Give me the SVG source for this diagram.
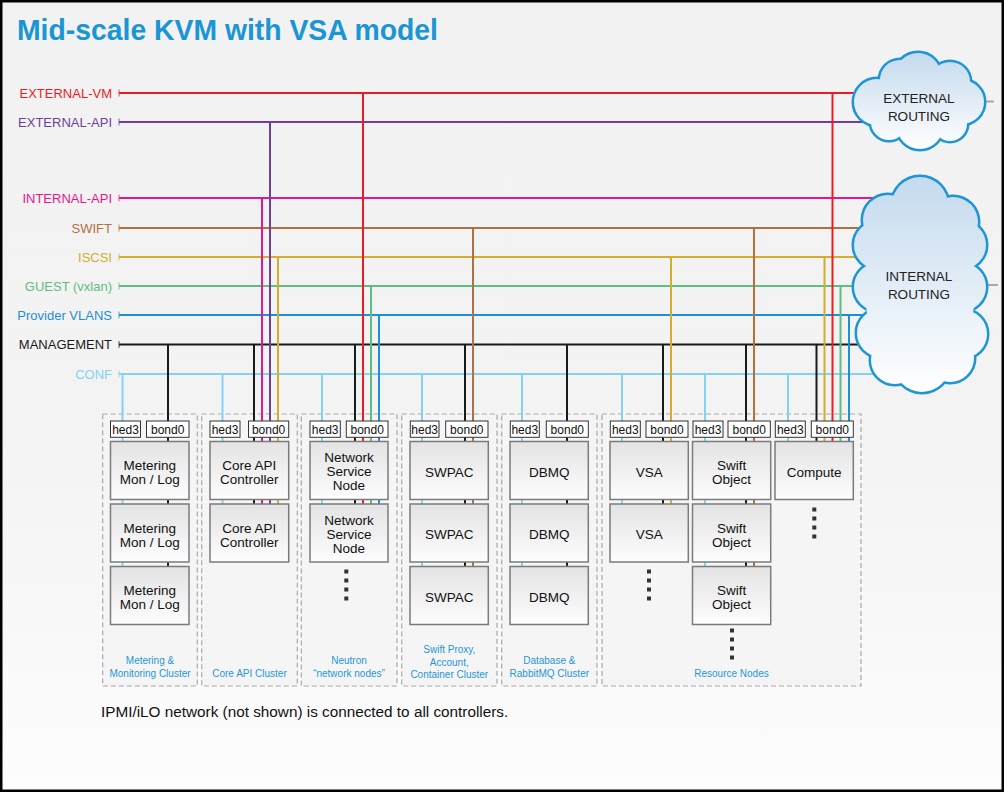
<svg xmlns="http://www.w3.org/2000/svg" width="1004" height="792" viewBox="0 0 1004 792">
<defs>
<linearGradient id="bg" x1="0" y1="0" x2="0" y2="1">
<stop offset="0" stop-color="#f2f2f2"/><stop offset="0.55" stop-color="#f3f3f3"/><stop offset="1" stop-color="#fdfdfd"/>
</linearGradient>
<linearGradient id="ng" x1="0" y1="0" x2="0" y2="1">
<stop offset="0" stop-color="#e3e3e3"/><stop offset="1" stop-color="#fdfdfd"/>
</linearGradient>
<linearGradient id="cg1" gradientUnits="userSpaceOnUse" x1="0" y1="52" x2="0" y2="150">
<stop offset="0" stop-color="#c4daee"/><stop offset="1" stop-color="#ffffff"/>
</linearGradient>
<linearGradient id="cg2" gradientUnits="userSpaceOnUse" x1="0" y1="176" x2="0" y2="393">
<stop offset="0" stop-color="#c4daee"/><stop offset="1" stop-color="#ffffff"/>
</linearGradient>
<style>
.t{font-family:"Liberation Sans",Arial,sans-serif}
.lbl{font-size:13px;text-anchor:end}
.nt{font-size:13.5px;text-anchor:middle;fill:#111}
.pt{font-size:12px;text-anchor:middle;fill:#111}
.cl{font-size:10px;text-anchor:middle;fill:#2596d6}
.ct{font-size:13.5px;text-anchor:middle;fill:#222}
.ln{fill:none;stroke-width:2}
.tk{stroke-width:1.5;opacity:0.5}
.node{fill:url(#ng);stroke:#7b7b7b;stroke-width:1.5}
.port{fill:#fff;stroke:#333;stroke-width:1}
.clu{fill:#f5f5f5;stroke:#a9a9a9;stroke-width:1.2;stroke-dasharray:5 3}
.dot{fill:#333}
.red{stroke:#ed1c24}.pur{stroke:#6f3f9c}.mag{stroke:#e8168b}.brn{stroke:#b3703f}.gld{stroke:#d3ae2e}.grn{stroke:#5ebd80}.blu{stroke:#1d8fd5}.blk{stroke:#1a1a1a}.cnf{stroke:#84d2f2}
.cs1{fill:none;stroke:#1e96d4;stroke-width:5}
.cf1{fill:url(#cg1)}
.cf2{fill:url(#cg2)}
</style>
</defs>

<rect x="0" y="0" width="1004" height="792" fill="url(#bg)"/>
<rect x="1.25" y="1.25" width="1001.5" height="789.5" fill="none" stroke="#000" stroke-width="2.5"/>

<text class="t" x="17" y="39.5" font-size="29" font-weight="bold" fill="#1b95d3" textLength="421" lengthAdjust="spacingAndGlyphs">Mid-scale KVM with VSA model</text>

<g id="network-labels">
<text class="t lbl" x="112" y="97.7" fill="#ed1c24">EXTERNAL-VM</text>
<text class="t lbl" x="112" y="126.7" fill="#6f3f9c">EXTERNAL-API</text>
<text class="t lbl" x="112" y="202.7" fill="#e8168b">INTERNAL-API</text>
<text class="t lbl" x="112" y="232.7" fill="#b3703f">SWIFT</text>
<text class="t lbl" x="112" y="261.7" fill="#d3ae2e">ISCSI</text>
<text class="t lbl" x="112" y="290.7" fill="#5ebd80">GUEST (vxlan)</text>
<text class="t lbl" x="112" y="319.7" fill="#1d8fd5">Provider VLANS</text>
<text class="t lbl" x="112" y="349.2" fill="#1a1a1a">MANAGEMENT</text>
<text class="t lbl" x="112" y="378.7" fill="#84d2f2">CONF</text>
</g>

<g id="clusters">
<rect class="clu" x="102.7" y="414" width="94.6" height="272"/>
<rect class="clu" x="201.7" y="414" width="95.6" height="272"/>
<rect class="clu" x="301.3" y="414" width="95.7" height="272"/>
<rect class="clu" x="401.7" y="414" width="95.3" height="272"/>
<rect class="clu" x="501.7" y="414" width="95.3" height="272"/>
<rect class="clu" x="602" y="414" width="259" height="272"/>
<text class="t cl" x="150" y="664">Metering &amp;</text>
<text class="t cl" x="150" y="676.5">Monitoring Cluster</text>
<text class="t cl" x="249.5" y="676.5">Core API Cluster</text>
<text class="t cl" x="349" y="664">Neutron</text>
<text class="t cl" x="349" y="676.5">“network nodes”</text>
<text class="t cl" x="449.3" y="653">Swift Proxy,</text>
<text class="t cl" x="449.3" y="665.5">Account,</text>
<text class="t cl" x="449.3" y="678">Container Cluster</text>
<text class="t cl" x="549.3" y="664">Database &amp;</text>
<text class="t cl" x="549.3" y="676.5">RabbitMQ Cluster</text>
<text class="t cl" x="731.5" y="676.5">Resource Nodes</text>
</g>

<g id="connectors">
<line class="tk red" x1="119" y1="89.5" x2="119" y2="96.5"/>
<line class="tk pur" x1="119" y1="118.5" x2="119" y2="125.5"/>
<line class="tk mag" x1="119" y1="194.5" x2="119" y2="201.5"/>
<line class="tk brn" x1="119" y1="224.5" x2="119" y2="231.5"/>
<line class="tk gld" x1="119" y1="253.5" x2="119" y2="260.5"/>
<line class="tk grn" x1="119" y1="282.5" x2="119" y2="289.5"/>
<line class="tk blu" x1="119" y1="311.5" x2="119" y2="318.5"/>
<line class="tk blk" x1="119" y1="341" x2="119" y2="348"/>
<line class="tk cnf" x1="119" y1="370.5" x2="119" y2="377.5"/>

<line class="ln red" x1="119" y1="93" x2="900" y2="93"/>
<line class="ln pur" x1="119" y1="122" x2="900" y2="122"/>
<line class="ln mag" x1="119" y1="198" x2="900" y2="198"/>
<line class="ln brn" x1="119" y1="228" x2="900" y2="228"/>
<line class="ln gld" x1="119" y1="257" x2="900" y2="257"/>
<line class="ln grn" x1="119" y1="286" x2="900" y2="286"/>
<line class="ln blu" x1="119" y1="315" x2="900" y2="315"/>
<line class="ln blk" x1="119" y1="344.5" x2="900" y2="344.5"/>
<line class="ln cnf" x1="119" y1="374" x2="900" y2="374"/>

<path class="ln red" d="M363 93V508M832.5 93V445"/>
<path class="ln pur" d="M270 122V508"/>
<path class="ln mag" d="M262 198V508"/>
<path class="ln brn" d="M473 228V570M754 228V570"/>
<path class="ln gld" d="M278 257V508M671 257V508M824.5 257V445"/>
<path class="ln grn" d="M371 286V508M840.5 286V445"/>
<path class="ln blu" d="M379 315V508M849 315V445"/>
<path class="ln blk" d="M168 344.5V570M254 344.5V508M355 344.5V508M465 344.5V570M567 344.5V570M663 344.5V508M746 344.5V570M816.5 344.5V445"/>
<path class="ln cnf" d="M122.5 374V570M222.5 374V508M322 374V508M422 374V570M522 374V570M622 374V508M705 374V570M788 374V445"/>

<line x1="985" y1="101.5" x2="994" y2="101.5" stroke="#aaa" stroke-width="2"/>
<line x1="986" y1="285" x2="998" y2="285" stroke="#aaa" stroke-width="2"/>
</g>

<g id="external-routing">
<g class="cs1">
<circle cx="877" cy="102" r="23"/><circle cx="900" cy="80" r="20"/><circle cx="918" cy="76" r="23"/><circle cx="950" cy="82" r="20"/><circle cx="962" cy="102" r="22"/><circle cx="950" cy="124" r="17"/><circle cx="920" cy="126" r="23"/><circle cx="889" cy="122" r="18"/>
</g>
<g class="cf1">
<circle cx="877" cy="102" r="23"/><circle cx="900" cy="80" r="20"/><circle cx="918" cy="76" r="23"/><circle cx="950" cy="82" r="20"/><circle cx="962" cy="102" r="22"/><circle cx="950" cy="124" r="17"/><circle cx="920" cy="126" r="23"/><circle cx="889" cy="122" r="18"/>
<ellipse cx="920" cy="102" rx="45" ry="30"/>
</g>
<text class="t ct" x="919" y="102.5">EXTERNAL</text>
<text class="t ct" x="919" y="120.5">ROUTING</text>
</g>

<g id="internal-routing">
<g class="cs1">
<circle cx="920" cy="205" r="28"/><circle cx="888" cy="220" r="25"/><circle cx="953" cy="222" r="25"/><circle cx="878" cy="245" r="24"/><circle cx="878" cy="287" r="24"/><circle cx="881" cy="333" r="24"/><circle cx="962" cy="245" r="24"/><circle cx="962" cy="287" r="24"/><circle cx="963" cy="334" r="24"/><circle cx="895" cy="360" r="24"/><circle cx="922" cy="364" r="28"/><circle cx="950" cy="358" r="24"/>
</g>
<g class="cf2">
<circle cx="920" cy="205" r="28"/><circle cx="888" cy="220" r="25"/><circle cx="953" cy="222" r="25"/><circle cx="878" cy="245" r="24"/><circle cx="878" cy="287" r="24"/><circle cx="881" cy="333" r="24"/><circle cx="962" cy="245" r="24"/><circle cx="962" cy="287" r="24"/><circle cx="963" cy="334" r="24"/><circle cx="895" cy="360" r="24"/><circle cx="922" cy="364" r="28"/><circle cx="950" cy="358" r="24"/>
<ellipse cx="920" cy="288" rx="55" ry="95"/>
</g>
<text class="t ct" x="919" y="281">INTERNAL</text>
<text class="t ct" x="919" y="299">ROUTING</text>
</g>

<g id="metering-1">
<rect class="port" x="110.5" y="421" width="30" height="16.3"/><text class="t pt" x="125.5" y="433.5">hed3</text>
<rect class="port" x="146.5" y="421" width="42.5" height="16.3"/><text class="t pt" x="167.7" y="433.5">bond0</text>
<rect class="node" x="110.5" y="441.5" width="78.5" height="58"/>
<text class="t nt" x="149.7" y="470">Metering</text><text class="t nt" x="149.7" y="484">Mon / Log</text>
</g>
<g id="metering-2">
<rect class="node" x="110.5" y="504" width="78.5" height="58"/>
<text class="t nt" x="149.7" y="532.5">Metering</text><text class="t nt" x="149.7" y="546.5">Mon / Log</text>
</g>
<g id="metering-3">
<rect class="node" x="110.5" y="566.5" width="78.5" height="58"/>
<text class="t nt" x="149.7" y="595">Metering</text><text class="t nt" x="149.7" y="609">Mon / Log</text>
</g>

<g id="core-api-1">
<rect class="port" x="210" y="421" width="30" height="16.3"/><text class="t pt" x="225" y="433.5">hed3</text>
<rect class="port" x="248.5" y="421" width="40.2" height="16.3"/><text class="t pt" x="268.6" y="433.5">bond0</text>
<rect class="node" x="210" y="441.5" width="78.7" height="58"/>
<text class="t nt" x="249.3" y="470">Core API</text><text class="t nt" x="249.3" y="484">Controller</text>
</g>
<g id="core-api-2">
<rect class="node" x="210" y="504" width="78.7" height="58"/>
<text class="t nt" x="249.3" y="532.5">Core API</text><text class="t nt" x="249.3" y="546.5">Controller</text>
</g>

<g id="network-1">
<rect class="port" x="310" y="421" width="30.3" height="16.3"/><text class="t pt" x="325.2" y="433.5">hed3</text>
<rect class="port" x="346.3" y="421" width="41.7" height="16.3"/><text class="t pt" x="367.2" y="433.5">bond0</text>
<rect class="node" x="310" y="441.5" width="78" height="58"/>
<text class="t nt" x="349" y="462">Network</text><text class="t nt" x="349" y="476">Service</text><text class="t nt" x="349" y="490">Node</text>
</g>
<g id="network-2">
<rect class="node" x="310" y="504" width="78" height="58"/>
<text class="t nt" x="349" y="524.5">Network</text><text class="t nt" x="349" y="538.5">Service</text><text class="t nt" x="349" y="552.5">Node</text>
</g>
<g id="network-more">
<rect class="dot" x="344.3" y="569.5" width="4" height="4"/><rect class="dot" x="344.3" y="578.5" width="4" height="4"/><rect class="dot" x="344.3" y="587.5" width="4" height="4"/><rect class="dot" x="344.3" y="596.5" width="4" height="4"/>
</g>

<g id="swpac-1">
<rect class="port" x="410.3" y="421" width="28.7" height="16.3"/><text class="t pt" x="424.7" y="433.5">hed3</text>
<rect class="port" x="445.7" y="421" width="42.3" height="16.3"/><text class="t pt" x="466.8" y="433.5">bond0</text>
<rect class="node" x="410" y="441.5" width="78.3" height="58"/>
<text class="t nt" x="449.2" y="476.5">SWPAC</text>
</g>
<g id="swpac-2">
<rect class="node" x="410" y="504" width="78.3" height="58"/>
<text class="t nt" x="449.2" y="539">SWPAC</text>
</g>
<g id="swpac-3">
<rect class="node" x="410" y="566.5" width="78.3" height="58"/>
<text class="t nt" x="449.2" y="601.5">SWPAC</text>
</g>

<g id="dbmq-1">
<rect class="port" x="510.3" y="421" width="29" height="16.3"/><text class="t pt" x="524.8" y="433.5">hed3</text>
<rect class="port" x="546.3" y="421" width="42" height="16.3"/><text class="t pt" x="567.3" y="433.5">bond0</text>
<rect class="node" x="510" y="441.5" width="78.3" height="58"/>
<text class="t nt" x="549.2" y="476.5">DBMQ</text>
</g>
<g id="dbmq-2">
<rect class="node" x="510" y="504" width="78.3" height="58"/>
<text class="t nt" x="549.2" y="539">DBMQ</text>
</g>
<g id="dbmq-3">
<rect class="node" x="510" y="566.5" width="78.3" height="58"/>
<text class="t nt" x="549.2" y="601.5">DBMQ</text>
</g>

<g id="vsa-1">
<rect class="port" x="610.3" y="421" width="30" height="16.3"/><text class="t pt" x="625.3" y="433.5">hed3</text>
<rect class="port" x="646" y="421" width="42" height="16.3"/><text class="t pt" x="667" y="433.5">bond0</text>
<rect class="node" x="610" y="441.5" width="78.3" height="58"/>
<text class="t nt" x="649.2" y="476.5">VSA</text>
</g>
<g id="vsa-2">
<rect class="node" x="610" y="504" width="78.3" height="58"/>
<text class="t nt" x="649.2" y="539">VSA</text>
</g>
<g id="vsa-more">
<rect class="dot" x="647" y="569.5" width="4" height="4"/><rect class="dot" x="647" y="578.5" width="4" height="4"/><rect class="dot" x="647" y="587.5" width="4" height="4"/><rect class="dot" x="647" y="596.5" width="4" height="4"/>
</g>

<g id="swift-object-1">
<rect class="port" x="693" y="421" width="30" height="16.3"/><text class="t pt" x="708" y="433.5">hed3</text>
<rect class="port" x="728" y="421" width="42.3" height="16.3"/><text class="t pt" x="749.2" y="433.5">bond0</text>
<rect class="node" x="692.5" y="441.5" width="78.2" height="58"/>
<text class="t nt" x="731.6" y="470">Swift</text><text class="t nt" x="731.6" y="484">Object</text>
</g>
<g id="swift-object-2">
<rect class="node" x="692.5" y="504" width="78.2" height="58"/>
<text class="t nt" x="731.6" y="532.5">Swift</text><text class="t nt" x="731.6" y="546.5">Object</text>
</g>
<g id="swift-object-3">
<rect class="node" x="692.5" y="566.5" width="78.2" height="58"/>
<text class="t nt" x="731.6" y="595">Swift</text><text class="t nt" x="731.6" y="609">Object</text>
</g>
<g id="swift-more">
<rect class="dot" x="730" y="628.5" width="4" height="4"/><rect class="dot" x="730" y="637.5" width="4" height="4"/><rect class="dot" x="730" y="646.5" width="4" height="4"/><rect class="dot" x="730" y="655.5" width="4" height="4"/>
</g>

<g id="compute-1">
<rect class="port" x="775.3" y="421" width="30" height="16.3"/><text class="t pt" x="790.3" y="433.5">hed3</text>
<rect class="port" x="811.3" y="421" width="42" height="16.3"/><text class="t pt" x="832.3" y="433.5">bond0</text>
<rect class="node" x="775" y="441.5" width="78.3" height="58"/>
<text class="t nt" x="814.2" y="476.5">Compute</text>
</g>
<g id="compute-more">
<rect class="dot" x="812.3" y="507.5" width="4" height="4"/><rect class="dot" x="812.3" y="516.5" width="4" height="4"/><rect class="dot" x="812.3" y="525.5" width="4" height="4"/><rect class="dot" x="812.3" y="534.5" width="4" height="4"/>
</g>

<text class="t" x="101" y="717" font-size="15.3" fill="#111">IPMI/iLO network (not shown) is connected to all controllers.</text>
</svg>
